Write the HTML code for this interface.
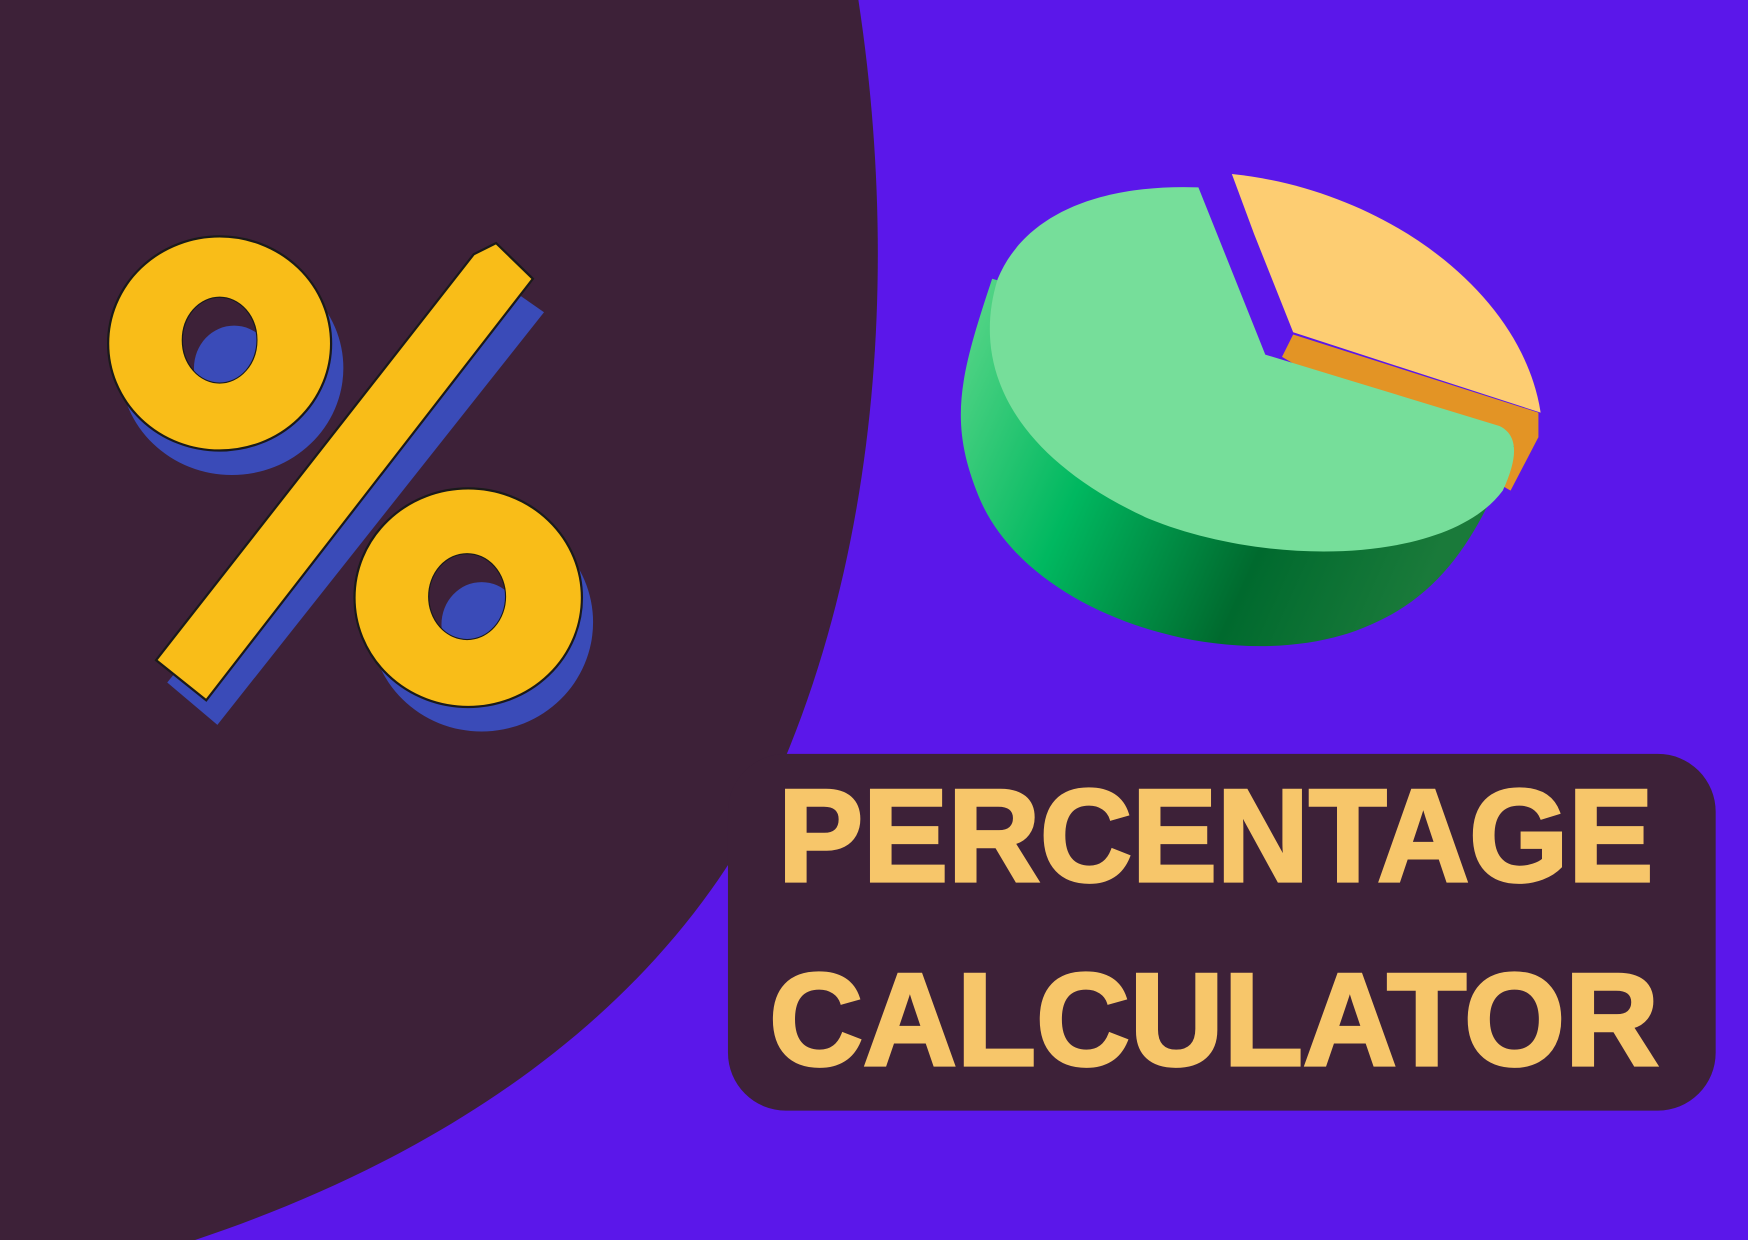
<!DOCTYPE html>
<html><head><meta charset="utf-8"><style>
html,body{margin:0;padding:0;background:#5b17ea;}
svg{display:block;}
</style></head>
<body>
<svg width="1748" height="1240" viewBox="0 0 1568 1112" preserveAspectRatio="none" xmlns="http://www.w3.org/2000/svg">
<defs>
<linearGradient id="side" x1="0" y1="0" x2="1" y2="0.3">
<stop offset="0" stop-color="#5fd88b"/><stop offset="0.35" stop-color="#00b860"/><stop offset="0.7" stop-color="#006a2e"/><stop offset="1" stop-color="#1a7a3a"/>
</linearGradient>
<clipPath id="h1"><ellipse cx="197" cy="305" rx="33" ry="38"/></clipPath>
<clipPath id="h2"><ellipse cx="419" cy="535" rx="34" ry="38"/></clipPath>
</defs>
<rect x="0" y="0" width="1568" height="1112" fill="#5b17ea"/>
<path d="M0,0 L770,0 C805,230 790,480 700,690 C610,890 420,1030 175,1112 L0,1112 Z" fill="#3d2138"/>

<g>
<g fill="#3a4bb8">
<ellipse cx="208" cy="330" rx="100" ry="96"/>
<ellipse cx="432" cy="558" rx="100" ry="98"/>
<polygon points="150,612 445,250 488,280 195,650"/>
</g>
<g fill="#f9bd18" stroke="#1a1a1a" stroke-width="2">
<path fill-rule="evenodd" d="M97,308 a100,96 0 1,0 200,0 a100,96 0 1,0 -200,0 Z M164,305 a33,38 0 1,0 66,0 a33,38 0 1,0 -66,0 Z"/>
<polygon points="140,592 425,228 445,218 478,250 185,628"/>
<path fill-rule="evenodd" d="M318,536 a102,98 0 1,0 204,0 a102,98 0 1,0 -204,0 Z M385,535 a34,38 0 1,0 68,0 a34,38 0 1,0 -68,0 Z"/>
</g>
<g clip-path="url(#h1)"><ellipse cx="197" cy="305" rx="33" ry="38" fill="#3d2138"/><ellipse cx="210" cy="330" rx="36" ry="38" fill="#3a4bb8"/></g>
<g clip-path="url(#h2)"><ellipse cx="419" cy="535" rx="34" ry="38" fill="#3d2138"/><ellipse cx="432" cy="560" rx="36" ry="38" fill="#3a4bb8"/></g>
</g>

<g>
<path d="M1160,300 L1380,370 L1380,392 L1355,440 L1150,320 Z" fill="#e39425"/>
<path d="M1105,156 C1240,170 1365,260 1382,370 L1160,298 L1125,210 Z" fill="#fdcd72"/>
<path d="M890,250 C860,340 850,380 880,450 C930,560 1120,610 1230,560 C1300,530 1330,470 1358,400 L1130,320 Z" fill="url(#side)"/>
<path d="M1075,168 C990,165 920,190 895,250 C870,330 910,410 1030,465 C1140,510 1300,505 1348,440 C1362,410 1362,390 1345,382 L1135,318 Z" fill="#76de9a"/>
</g>

<g>
<rect x="653" y="676" width="886" height="320" rx="52" fill="#3d2138"/>
<text x="698" y="790" textLength="785" lengthAdjust="spacingAndGlyphs" font-family="Liberation Sans, sans-serif" font-weight="bold" font-size="118" fill="#f7c66a" stroke="#f7c66a" stroke-width="3">PERCENTAGE</text>
<text x="690" y="955" textLength="798" lengthAdjust="spacingAndGlyphs" font-family="Liberation Sans, sans-serif" font-weight="bold" font-size="118" fill="#f7c66a" stroke="#f7c66a" stroke-width="3">CALCULATOR</text>
</g>
</svg>
</body></html>
